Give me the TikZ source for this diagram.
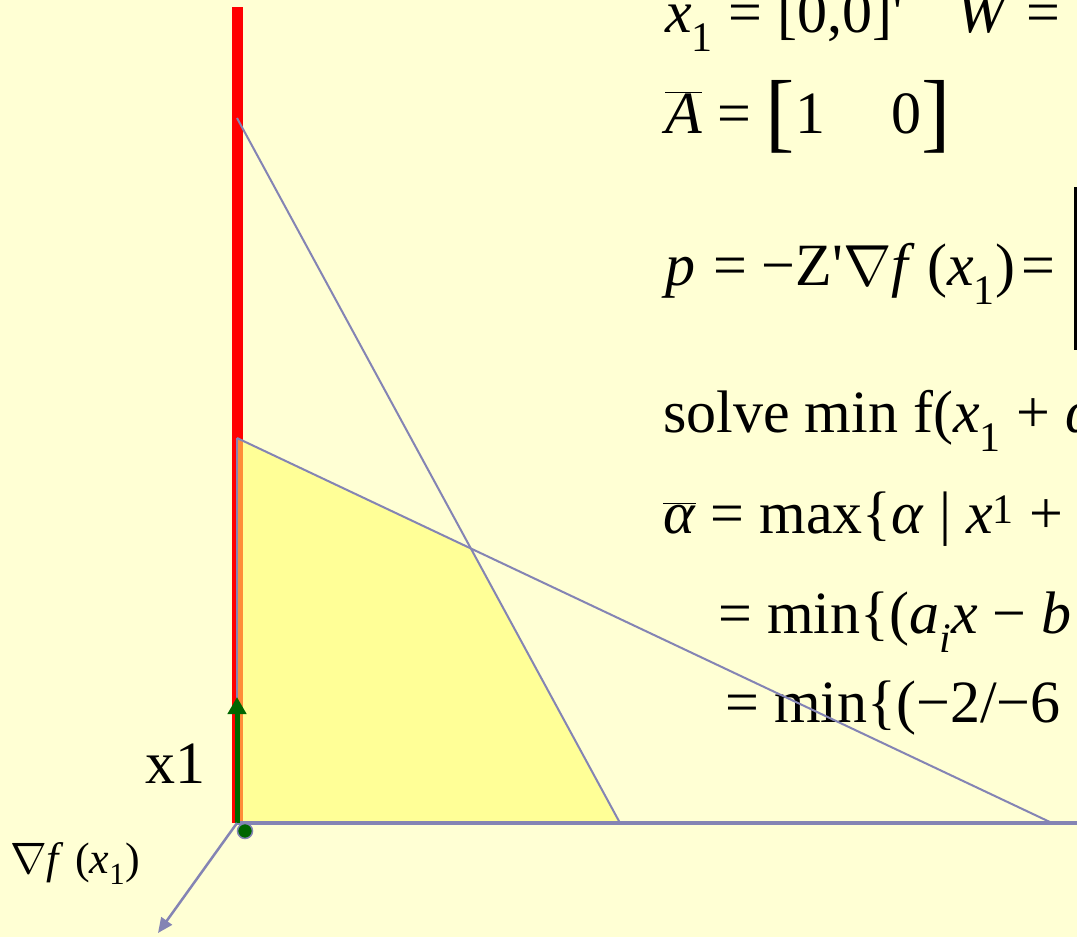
\documentclass[tikz,border=0pt]{standalone}
\usepackage{graphicx}
\usepackage{fontspec}
\setmainfont{Liberation Serif}
\newfontfamily\quotefont{Liberation Serif}[Ligatures=TeXOff]
\usepackage{tikz}
\usetikzlibrary{arrows.meta}
\definecolor{slide}{HTML}{FFFFD4}
\definecolor{slate}{HTML}{8484B4}
\definecolor{region}{HTML}{FFFF66}
\definecolor{darkgreen}{HTML}{006600}

\begin{document}
\begin{tikzpicture}
 [x=1pt, y=-1pt,
  eq text/.style={anchor=base west, inner sep=0pt, font=\fontsize{60}{72}\selectfont},
  small text/.style={anchor=base west, inner sep=0pt, font=\fontsize{44}{52}\selectfont},
  constraint/.style={draw=slate, line width=2pt},
  axis line/.style={draw=slate, line width=3.5pt}]

\fill[slide] (0,0) rectangle (1077,937);
\useasboundingbox (0,0) rectangle (1077,937);
\clip (0,0) rectangle (1077,937);

\coordinate (O) at (237,823);
\coordinate (top) at (237,7);
\coordinate (a) at (237,118);
\coordinate (b) at (237,438);
\coordinate (c) at (472,549);
\coordinate (d) at (620,823);
\coordinate (e) at (1052,823);
\coordinate (xend) at (1085,823);
\coordinate (p) at (237,697);
\coordinate (g) at (158,933);

% red edge and feasible region
\draw[red, line width=11pt] (top) -- (O);
\fill[region, fill opacity=0.55] (b) -- (c) -- (d) -- (O) -- cycle;
\draw[slate, line width=1.5pt] (b) -- (O);

% equations
\node[eq text] (line1) at (665,32) {\textit{x}\textsubscript{1} = [0,0]{\quotefont'}\hspace{0.9em}\textit{W} = \{};
\node[eq text] (line2) at (665,133) {$\overline{\mbox{\textit{A}}}$ = {\fontsize{88}{88}\selectfont\raisebox{-8pt}{[}}1\hspace{1.1em}0{\fontsize{88}{88}\selectfont\raisebox{-8pt}{]}}};
\node[eq text] (line3) at (665,285) {\textit{p}\hspace{0.3em}=\hspace{0.25em}−Z{\quotefont'}\scalebox{5.8}{\fontsize{10}{12}\selectfont$\nabla$}\textit{f}\hspace{0.2em}(\textit{x}\textsubscript{1})\hspace{0.1em}=};
\node[eq text] (line4) at (663,432) {solve min f(\textit{x}\textsubscript{1} + \textit{α}};
\node[eq text] (line5) at (663,533) {$\overline{\mbox{\textit{α}}}$ = max\{\textit{α} | \textit{x}\textsuperscript{1} +};
\node[eq text] (line6) at (718,633) {= min\{(\textit{a}\textsubscript{\textit{i}}\textit{x} − \textit{b}};
\node[eq text] (line7) at (725,722) {= min\{(−2/−6};
\fill (1074,187) rectangle (1078,350);

% constraints and axis
\path
  (a) edge [constraint] (d)
  (b) edge [constraint] (e)
  (O) edge [axis line] (xend);

% direction p and gradient
\draw[darkgreen, line width=5pt, -{Triangle[length=17pt,width=18pt]}] (O) -- (p);
\draw[slate, line width=2.5pt, -{Triangle[length=15pt,width=13pt]}] (O) -- (g);
\node[circle, fill=darkgreen, draw=slate, line width=1.5pt, minimum size=15pt, inner sep=0pt] (x1dot) at (245,831) {};

\node[eq text] (x1) at (145,783) {x1};
\node[small text] (grad) at (10,873) {\scalebox{4.4}{\fontsize{10}{12}\selectfont$\nabla$}\textit{f}\hspace{0.25em}(\textit{x}\textsubscript{1})};

\end{tikzpicture}
\end{document}
